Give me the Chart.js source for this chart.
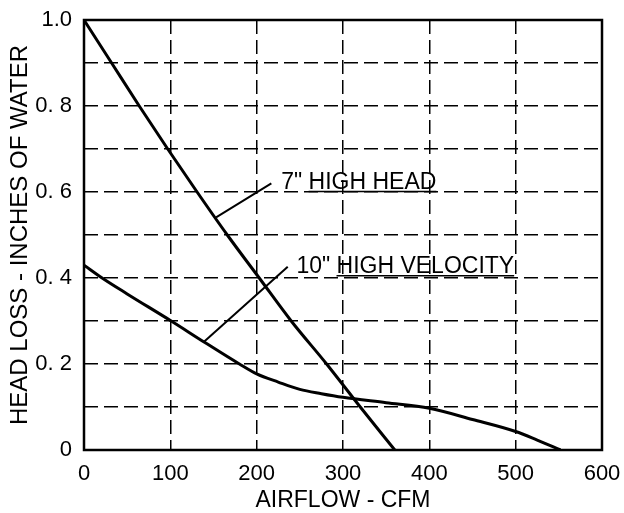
<!DOCTYPE html>
<html><head><meta charset="utf-8">
<script src="https://cdn.jsdelivr.net/npm/chart.js@4.4.0/dist/chart.umd.min.js"></script>
<style>html,body{margin:0;padding:0;background:#fff;}#wrap{width:624px;height:513px;}</style>
</head><body><div id="wrap"><canvas id="c" width="624" height="513"></canvas></div>
<script>
// ---- data ----
const hhFlow = [0, 32, 64, 97, 131, 166, 203, 240, 281, 320, 360];
const hhLoss = [1.0, 0.9, 0.8, 0.7, 0.6, 0.5, 0.4, 0.3, 0.2, 0.1, 0];
const hvFlow = [0, 21, 50, 101, 140, 180, 200, 225, 250, 275, 300, 350, 400, 450, 500, 525, 552];
const hvLoss = [0.43, 0.40, 0.363, 0.30, 0.25, 0.20, 0.177, 0.158, 0.141, 0.131, 0.1225, 0.11, 0.097, 0.071, 0.043, 0.023, 0];
const xTickLabels = ['0', '100', '200', '300', '400', '500', '600'];
const yTickLabels = ['0', '0. 2', '0. 4', '0. 6', '0. 8', '1.0'];
const seriesNames = ['7" HIGH HEAD', '10" HIGH VELOCITY'];
// leader lines (label end -> curve), data units
const hhLeaderFlow = [217, 153];
const hhLeaderLoss = [0.62, 0.541];
const hvLeaderFlow = [236, 139];
const hvLeaderLoss = [0.426, 0.252];
// label anchors (left, baseline), data units
const labelFlow = [228.5, 246];
const labelLoss = [0.607, 0.411];

const FONT = "'Liberation Sans', Arial, Helvetica, sans-serif";
const pts = (xs, ys) => xs.map((x, i) => ({x: x, y: ys[i]}));
const curve = (d, w) => ({data: d, borderColor: '#000', borderWidth: w, pointRadius: 0, fill: false,
  cubicInterpolationMode: 'monotone'});

const frame = {
  id: 'frame',
  afterDraw(chart) {
    const {ctx, chartArea: a, scales: {x, y}} = chart;
    ctx.save();
    ctx.strokeStyle = '#000';
    ctx.lineWidth = 2.5;
    ctx.strokeRect(a.left, a.top, a.right - a.left, a.bottom - a.top);
    ctx.fillStyle = '#000';
    ctx.font = '23px ' + FONT;
    ctx.textBaseline = 'alphabetic';
    ctx.lineWidth = 1.5;
    seriesNames.forEach((t, i) => {
      const px = x.getPixelForValue(labelFlow[i]);
      const py = y.getPixelForValue(labelLoss[i]);
      ctx.fillText(t, px, py);
      const pre = t.split(' ')[0] + ' ';
      const u0 = px + ctx.measureText(pre).width;
      const u1 = px + ctx.measureText(t).width;
      ctx.beginPath();
      ctx.moveTo(u0, py + 2.5);
      ctx.lineTo(u1, py + 2.5);
      ctx.stroke();
    });
    ctx.restore();
  }
};

new Chart(document.getElementById('c'), {
  type: 'line',
  data: {datasets: [
    curve(pts(hhFlow, hhLoss), 3),
    curve(pts(hvFlow, hvLoss), 3),
    curve(pts(hhLeaderFlow, hhLeaderLoss), 2),
    curve(pts(hvLeaderFlow, hvLeaderLoss), 2)
  ]},
  options: {
    responsive: false, animation: false, devicePixelRatio: 1,
    layout: {padding: {top: 20, right: 22, left: 0, bottom: 0}},
    plugins: {legend: {display: false}, tooltip: {enabled: false}},
    scales: {
      x: {
        type: 'linear', min: 0, max: 600,
        afterFit(s) { s.height = 63; s.paddingLeft = 0; s.paddingRight = 0; },
        ticks: {stepSize: 100, color: '#000', font: {family: FONT, size: 22}, padding: 11, maxRotation: 0,
          callback: v => xTickLabels[Math.round(v / 100)]},
        grid: {color: '#000', drawTicks: false,
          lineWidth: c => (c.tick && (c.tick.value === 0 || c.tick.value === 600)) ? 0 : 1.5},
        border: {display: false, dash: [14, 6]},
        title: {display: true, text: 'AIRFLOW - CFM', color: '#000',
          font: {family: FONT, size: 23, lineHeight: 1}, padding: {top: 0, bottom: 1}}
      },
      y: {
        type: 'linear', min: 0, max: 1,
        afterFit(s) { s.width = 84; s.paddingTop = 0; s.paddingBottom = 0; },
        ticks: {stepSize: 0.1, color: '#000', font: {family: FONT, size: 22}, padding: 12,
          callback: v => { const k = Math.round(v * 10); return k % 2 === 0 ? yTickLabels[k / 2] : ''; }},
        grid: {color: '#000', drawTicks: false,
          lineWidth: c => (c.tick && (Math.abs(c.tick.value) < 1e-9 || Math.abs(c.tick.value - 1) < 1e-9)) ? 0 : 1.5},
        border: {display: false, dash: [14, 6]},
        title: {display: true, text: 'HEAD LOSS - INCHES OF WATER', color: '#000',
          font: {family: FONT, size: 24, lineHeight: 1}, padding: {top: 8, bottom: 0}}
      }
    }
  },
  plugins: [frame]
});
</script></body></html>
